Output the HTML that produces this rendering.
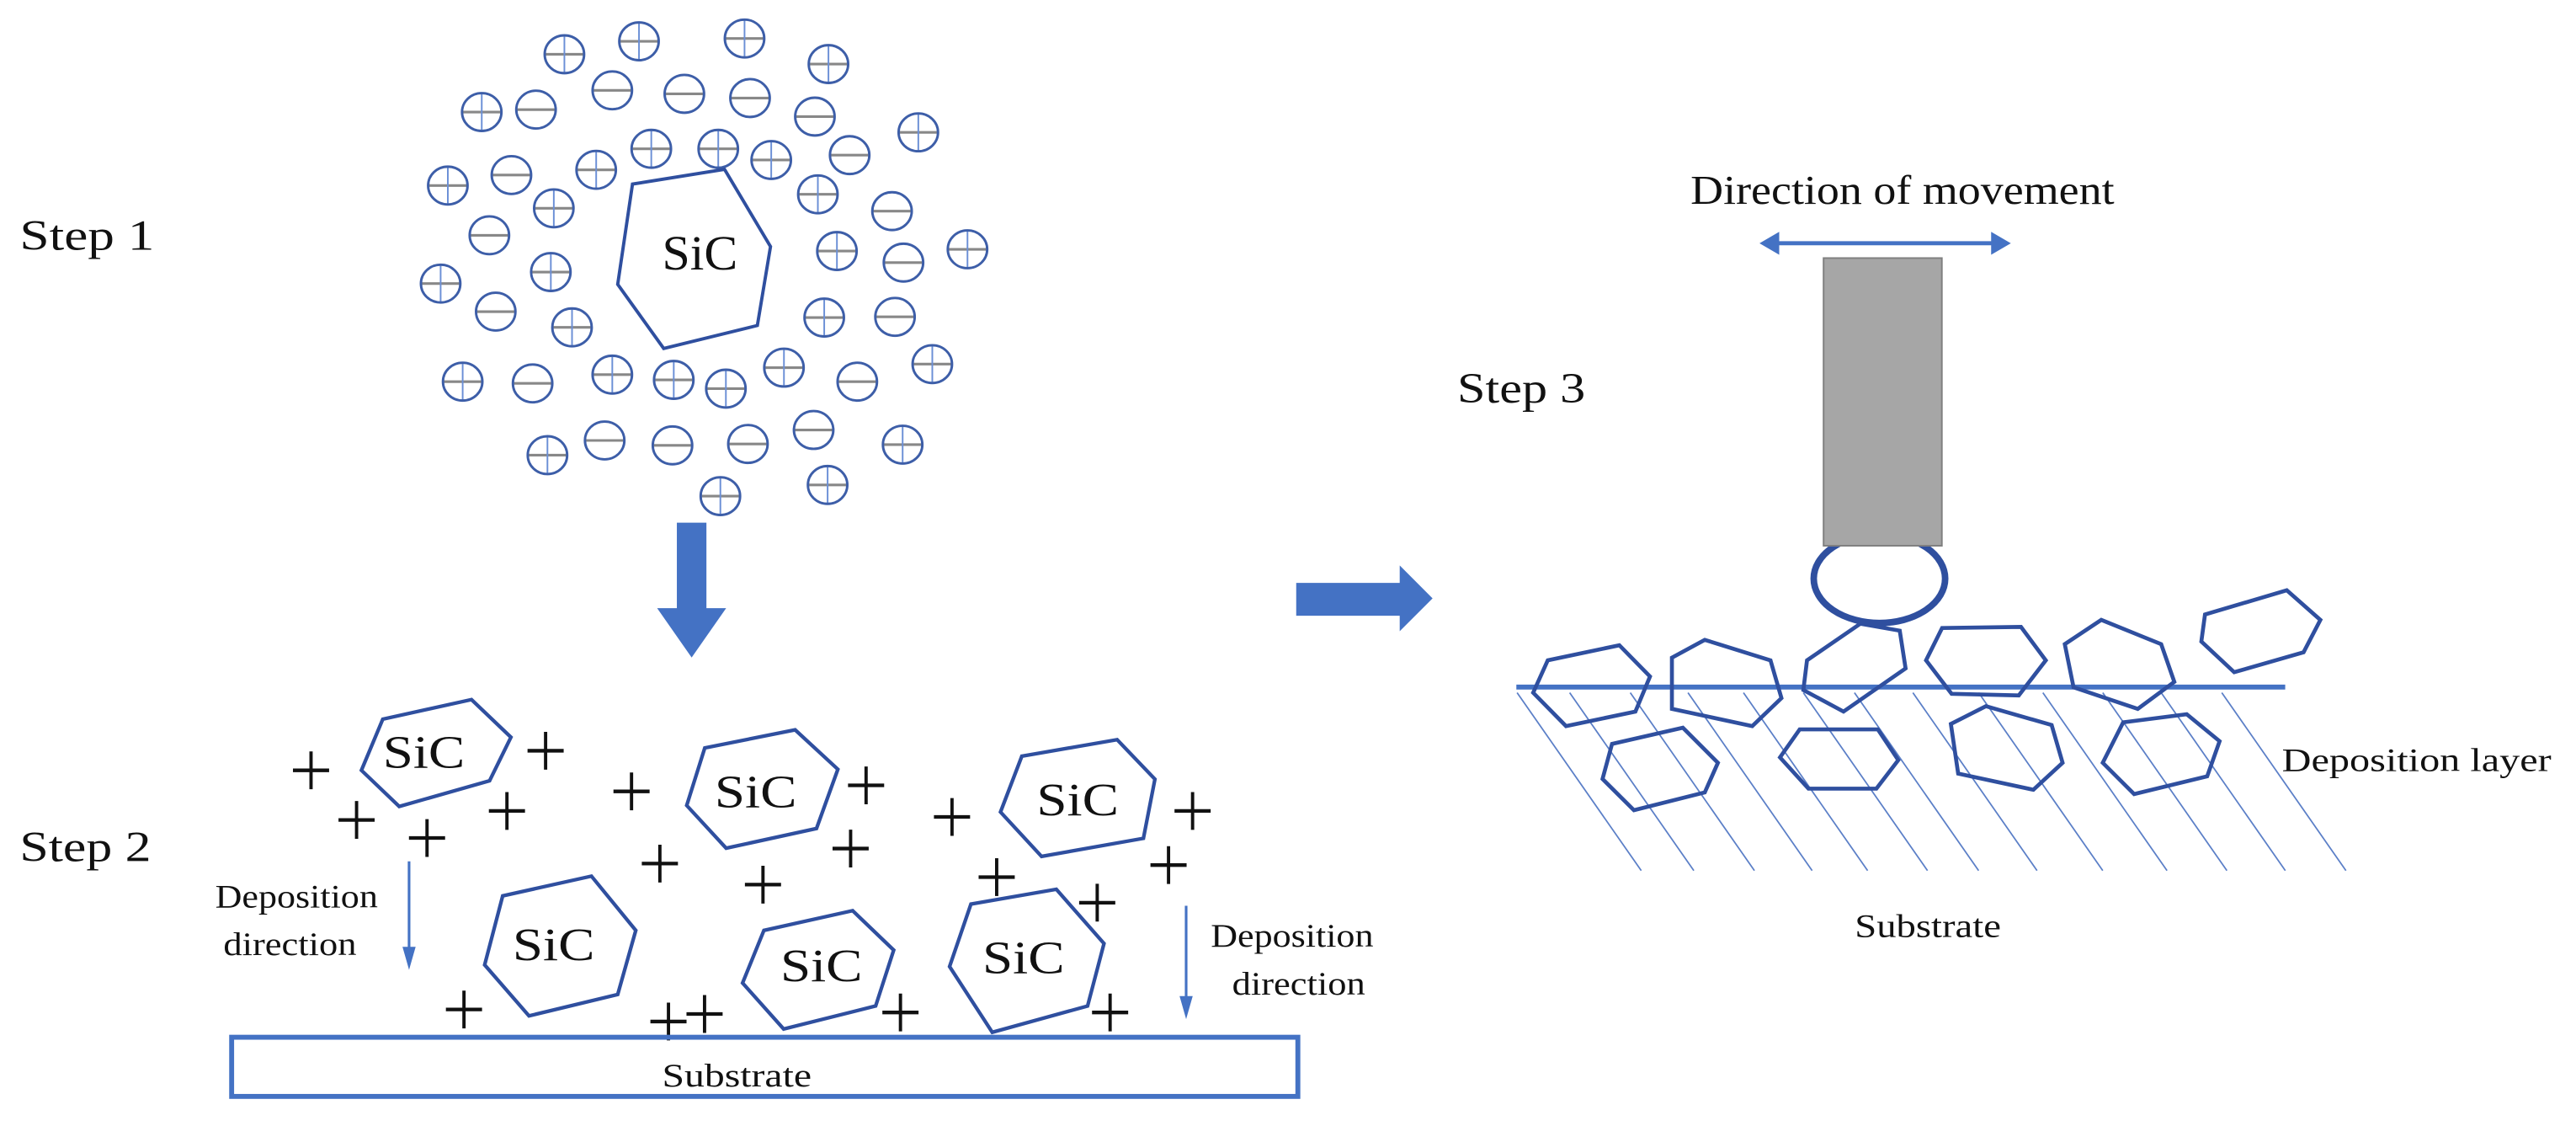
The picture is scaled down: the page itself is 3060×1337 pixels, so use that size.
<!DOCTYPE html>
<html><head><meta charset="utf-8"><style>
html,body{margin:0;padding:0;background:#fff;width:3060px;height:1337px;overflow:hidden}
svg{display:block}
text{font-family:"Liberation Serif",serif;fill:#111}
</style></head><body>
<svg id="s" width="3060" height="1337" viewBox="0 0 1568 685" preserveAspectRatio="none" xmlns="http://www.w3.org/2000/svg">
<rect width="1568" height="685" fill="#fff"/>
<g id="g"></g>
<!-- Step labels -->
<text x="12" y="152" font-size="26" textLength="82" lengthAdjust="spacingAndGlyphs">Step 1</text>
<text x="12" y="524" font-size="26" textLength="80" lengthAdjust="spacingAndGlyphs">Step 2</text>
<text x="887" y="245" font-size="26" textLength="78" lengthAdjust="spacingAndGlyphs">Step 3</text>
<!-- Step1 SiC -->
<text x="403" y="164" font-size="30" textLength="46" lengthAdjust="spacingAndGlyphs">SiC</text>
<!-- Step2 SiC -->
<text x="233" y="467" font-size="28" textLength="50" lengthAdjust="spacingAndGlyphs">SiC</text>
<text x="435" y="491" font-size="28" textLength="50" lengthAdjust="spacingAndGlyphs">SiC</text>
<text x="631" y="496" font-size="28" textLength="50" lengthAdjust="spacingAndGlyphs">SiC</text>
<text x="312" y="584" font-size="28" textLength="50" lengthAdjust="spacingAndGlyphs">SiC</text>
<text x="475" y="597" font-size="28" textLength="50" lengthAdjust="spacingAndGlyphs">SiC</text>
<text x="598" y="592" font-size="28" textLength="50" lengthAdjust="spacingAndGlyphs">SiC</text>
<!-- deposition texts -->
<text x="131" y="552" font-size="20" textLength="99" lengthAdjust="spacingAndGlyphs" fill="#333">Deposition</text>
<text x="136" y="581" font-size="20" textLength="81" lengthAdjust="spacingAndGlyphs" fill="#333">direction</text>
<text x="737" y="576" font-size="20" textLength="99" lengthAdjust="spacingAndGlyphs" fill="#333">Deposition</text>
<text x="750" y="605" font-size="20" textLength="81" lengthAdjust="spacingAndGlyphs" fill="#333">direction</text>
<text x="403" y="661" font-size="20" textLength="91" lengthAdjust="spacingAndGlyphs">Substrate</text>
<!-- step 3 texts -->
<text x="1029" y="124" font-size="25" textLength="258" lengthAdjust="spacingAndGlyphs">Direction of movement</text>
<text x="1389" y="469" font-size="20" textLength="164" lengthAdjust="spacingAndGlyphs">Deposition layer</text>
<text x="1129" y="570" font-size="20" textLength="89" lengthAdjust="spacingAndGlyphs">Substrate</text>
</svg>
<script>
var NS="http://www.w3.org/2000/svg",g=document.getElementById("g");
function el(t,a){var e=document.createElementNS(NS,t);for(var k in a)e.setAttribute(k,a[k]);g.appendChild(e);return e;}
// Step 1 ions
var ions=[[537,155,1],[713,118,1],[962,110,1],[1160,183,1],[650,258,0],[820,268,0],[975,280,0],[1128,333,0],[342,320,1],[470,313,0],[1372,378,1],[742,425,1],[900,425,1],[1025,457,1],[1210,443,0],[262,530,1],[412,500,0],[612,485,1],[512,595,1],[1135,555,1],[1310,603,0],[360,672,0],[1180,717,1],[1337,750,0],[1488,712,1],[245,810,1],[505,777,1],[375,890,0],[555,935,1],[1150,907,1],[1317,905,0],[297,1090,1],[462,1095,0],[650,1070,1],[795,1085,1],[918,1110,1],[1055,1050,1],[1228,1090,0],[1405,1040,1],[497,1300,1],[632,1258,0],[792,1272,0],[970,1268,0],[1125,1228,0],[1335,1270,1],[905,1417,1],[1158,1385,1]];
ions.forEach(function(c){var x=205+c[0]*0.258,y=c[1]*0.213;
 el("line",{x1:x-12,y1:y,x2:x+12,y2:y,stroke:"#888",["stroke-width"]:1.6});
 if(c[2])el("line",{x1:x,y1:y-11.5,x2:x,y2:y+11.5,stroke:"#6b8fd6",["stroke-width"]:1});
 el("ellipse",{cx:x,cy:y,rx:12,ry:11.5,fill:"none",stroke:"#3d5ea8",["stroke-width"]:1.5});});
// step1 hexagon
el("polygon",{points:"385,112 441,103 469,150 461,198 404,212 376,173",fill:"none",stroke:"#2f4f9f","stroke-width":2});
// down arrow
el("polygon",{points:"412,318 430,318 430,370 442,370 421,400 400,370 412,370",fill:"#4472c4"});
// right arrow
el("polygon",{points:"789,354.6 852,354.6 852,344 872,364 852,384 852,374.6 789,374.6",fill:"#4472c4"});
// step2 hexes
var h2=[[233,437.5,287,425.6,311,448.5,298,475,243,490.6,220,468.6],[429,455,484,444,510,468,497,504,442,516,418,490],[622,460,680,450,703,474,696,510,634,521,609,494],[306,545,360,533,387,566,376,605,322,618,295,587],[465,566,519,554,544,578,533,612,477,626,452,598],[591,550,643,541,672,574,662,612,604,628,578,588]];
h2.forEach(function(p){el("polygon",{points:p.join(" "),fill:"none",stroke:"#2f4f9f","stroke-width":2.2});});
// plus signs
var pl=[[362,375],[635,310],[415,540],[497,600],[590,510],[735,445],[1008,425],[768,685],[990,635],[888,755],[1108,530],[1388,510],[1160,730],[1360,690],[1277,815],[540,1170],[778,1210],[820,1185],[1048,1180],[1292,1180]];
pl.forEach(function(c){var x=c[0]*0.523,y=400+c[1]*0.183;
 el("line",{x1:x-11,y1:y,x2:x+11,y2:y,stroke:"#111","stroke-width":2.2});
 el("line",{x1:x,y1:y-11.5,x2:x,y2:y+11.5,stroke:"#111","stroke-width":2});});
// dep arrows
el("line",{x1:249,y1:524,x2:249,y2:578,stroke:"#4472c4","stroke-width":1.6});
el("polygon",{points:"245,576 253,576 249,590",fill:"#4472c4"});
el("line",{x1:722,y1:551,x2:722,y2:608,stroke:"#4472c4","stroke-width":1.6});
el("polygon",{points:"718,606 726,606 722,620",fill:"#4472c4"});
// substrate rect
el("rect",{x:141,y:631,width:649,height:36,fill:"none",stroke:"#4472c4","stroke-width":3});
// step3
function mx(z){return 871+z*0.4445} function my(z){return 77+z*0.328}
[288,360,443,522,598,680,750,830,920,1008,1090,1170,1253].forEach(function(b){
 el("line",{x1:mx(b-170),y1:my(1050),x2:mx(b),y2:my(1380),stroke:"#5b7fc7","stroke-width":0.9});});
el("line",{x1:923,y1:418,x2:1391,y2:418,stroke:"#4472c4","stroke-width":3});
var h3=[[160,990,258,962,300,1020,280,1085,185,1112,140,1050],[330,985,375,952,465,990,480,1060,440,1112,330,1080],[515,990,588,922,642,935,650,1005,565,1085,510,1045],[700,930,808,928,842,990,805,1055,713,1052,678,990],[868,960,918,915,1000,960,1018,1030,968,1080,880,1040],[1060,905,1172,860,1218,915,1195,975,1100,1012,1055,955],[248,1145,345,1115,393,1180,375,1235,278,1268,235,1210],[505,1118,612,1118,640,1175,610,1228,517,1228,478,1170],[712,1108,760,1075,850,1110,865,1180,825,1230,722,1200],[948,1105,1035,1090,1080,1140,1063,1205,963,1238,920,1180]];
h3.forEach(function(p){var q=[];for(var i=0;i<p.length;i+=2)q.push(mx(p[i])+","+my(p[i+1]));
 el("polygon",{points:q.join(" "),fill:"none",stroke:"#2f4f9f","stroke-width":2.4});});
// ball & tool
el("ellipse",{cx:1144,cy:352,rx:40,ry:27,fill:"#fff",stroke:"#2f4f9f","stroke-width":4});
el("rect",{x:1110,y:157,width:72,height:175,fill:"#a6a6a6",stroke:"#7f7f7f","stroke-width":1});
// double arrow
el("line",{x1:1080,y1:148,x2:1215,y2:148,stroke:"#4472c4","stroke-width":2.5});
el("polygon",{points:"1071,148 1083,141 1083,155",fill:"#4472c4"});
el("polygon",{points:"1224,148 1212,141 1212,155",fill:"#4472c4"});
</script>
</body></html>
